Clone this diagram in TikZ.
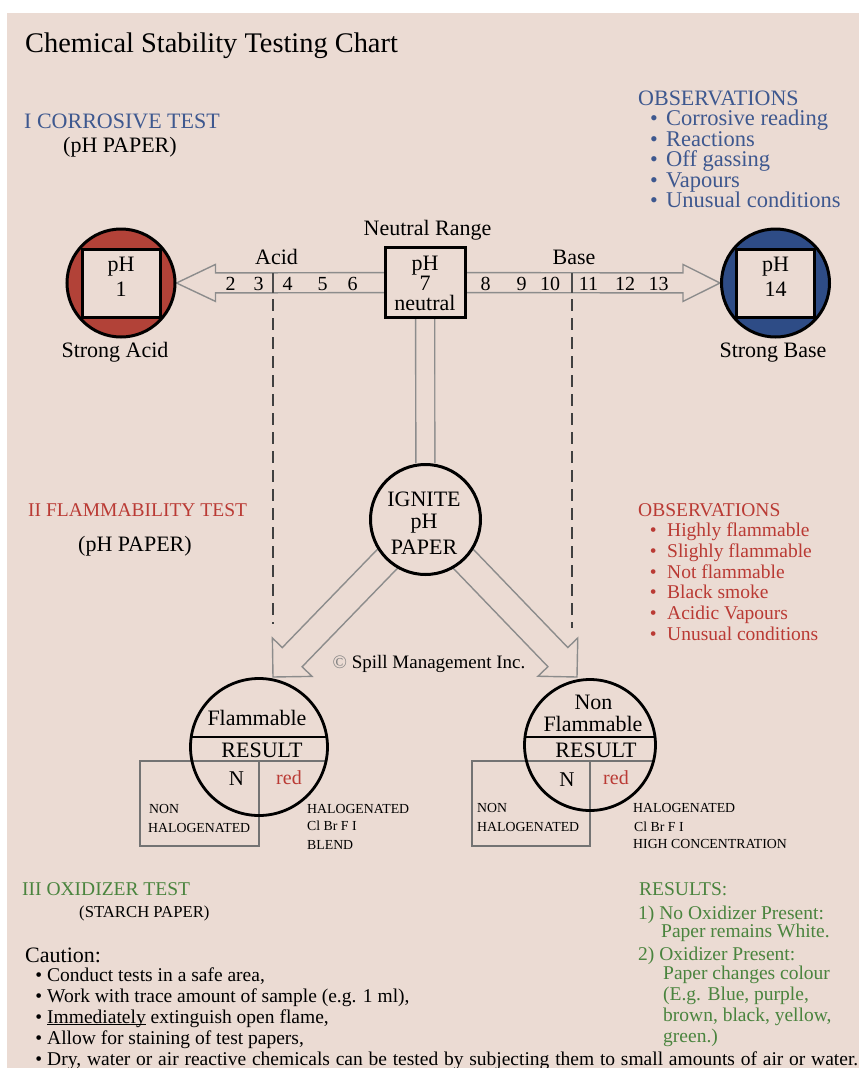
\documentclass[tikz,border=0pt]{standalone}
\usepackage{fontspec}
\setmainfont{Liberation Serif}
\usetikzlibrary{positioning,calc}

\definecolor{paper}{RGB}{235,219,211}
\definecolor{obsblue}{RGB}{62,88,143}
\definecolor{obsred}{RGB}{186,58,52}
\definecolor{obsgreen}{RGB}{74,132,62}
\definecolor{acidred}{RGB}{178,66,56}
\definecolor{baseblue}{RGB}{46,76,134}
\definecolor{arrowgray}{RGB}{140,140,140}

\pgfdeclarelayer{paperlayer}
\pgfdeclarelayer{arrowlayer}
\pgfsetlayers{paperlayer,arrowlayer,main}

\newcommand\fatarrow[5]{%
  \path (#1) coordinate (fa-s) (#2) coordinate (fa-t);
  \path ($(fa-t)!#5!(fa-s)$) coordinate (fa-b);
  \draw[fatline] ($(fa-s)!#3!90:(fa-t)$) -- ($(fa-b)!#3!90:(fa-t)$)
    -- ($(fa-b)!#4!90:(fa-t)$) -- (fa-t) -- ($(fa-b)!#4!-90:(fa-t)$)
    -- ($(fa-b)!#3!-90:(fa-t)$) -- ($(fa-s)!#3!-90:(fa-t)$);
}

\begin{document}
\begin{tikzpicture}[x=1pt,y=-1pt,
    lbl/.style={inner sep=0pt,anchor=base west},
    ctr/.style={inner sep=0pt,anchor=base},
    ftitle/.style={font=\fontsize{28.4}{30}\selectfont},
    fbig/.style={font=\fontsize{22}{24}\selectfont},
    fmid/.style={font=\fontsize{19.5}{22}\selectfont},
    fsub/.style={font=\fontsize{16.7}{19}\selectfont},
    fsmall/.style={font=\fontsize{13.8}{16}\selectfont},
    phring/.style={circle,draw,line width=3pt,minimum size=108pt},
    phsquare/.style={rectangle,draw,line width=3pt,fill=paper,minimum width=78pt,minimum height=68pt},
    neutralbox/.style={rectangle,draw,line width=3pt,fill=paper,minimum width=80pt,minimum height=70pt},
    ignitecirc/.style={circle,draw,line width=3pt,fill=paper,minimum size=110pt},
    boxline/.style={draw=black!55,line width=1.3pt},
    rescirc/.style 2 args={circle,draw,line width=2.8pt,fill=paper,
      path picture={
        \draw[line width=2.4pt] ([yshift=#1]path picture bounding box.center) +(-90pt,0pt) -- +(90pt,0pt);
        \draw[boxline] ([yshift=#2]path picture bounding box.center) +(-90pt,0pt) -- +(90pt,0pt);
        \draw[boxline] ([yshift=#2]path picture bounding box.center) -- +(0pt,-90pt);}},
    fatline/.style={draw=arrowgray,line width=1.4pt,line join=miter},
    tickline/.style={draw=black!70,line width=1.4pt},
    dashline/.style={draw=black!75,line width=1.6pt,dash pattern=on 12pt off 7pt}]

  \begin{pgfonlayer}{paperlayer}
    \fill[white] (0,0) rectangle (859,1068);
    \fill[paper] (7,13) rectangle (859,1068);
  \end{pgfonlayer}
  \useasboundingbox (0,0) rectangle (859,1068);

  \node[lbl,ftitle] (title) at (25,52) {Chemical Stability Testing Chart};

  % I corrosive test
  \node[lbl,fbig,text=obsblue] (test1) at (24,128) {I CORROSIVE TEST};
  \node[lbl,fbig] (paper1) at (63,152) {(pH PAPER)};
  \node[lbl,fbig,text=obsblue] (obsb) at (638,105) {OBSERVATIONS};
  \foreach \t [count=\i] in {Corrosive reading,Reactions,Off gassing,Vapours,Unusual conditions}{
    \node[lbl,font=\fontsize{22.5}{24}\selectfont,text=obsblue] (obsb\i) at (666,{105+20.5*\i}) {\t};
    \node[fbig,text=obsblue,inner sep=0pt,left=8pt of obsb\i.base west,anchor=base east] {•};
  }

  \node[phring,fill=acidred] (sacid) at (121,283) {};
  \node[phsquare] (sq1) at (sacid) {};
  \node[ctr,fbig] (ph1a) at (121,271) {pH};
  \node[ctr,fbig] (ph1b) at (121,296) {1};
  \node[ctr,fbig] (acidlbl) at (115,357) {Strong Acid};

  \node[phring,fill=baseblue] (sbase) at (775.5,283) {};
  \node[phsquare] (sq14) at (sbase) {};
  \node[ctr,fbig] (ph14a) at (775.5,271) {pH};
  \node[ctr,fbig] (ph14b) at (775.5,296) {14};
  \node[ctr,fbig] (baselbl) at (773,357) {Strong Base};

  \node[neutralbox] (neutral) at (425,282.5) {};
  \node[ctr,fbig] (ph7a) at (425,270) {pH};
  \node[ctr,fbig] (ph7b) at (425,290.5) {7};
  \node[ctr,fbig] (ph7c) at (425,310) {neutral};
  \node[ctr,fbig] (nrange) at (427.5,235) {Neutral Range};
  \node[ctr,fbig] (acid) at (276.5,264) {Acid};
  \node[ctr,fbig] (base) at (574,264) {Base};
  \foreach \n/\x in {2/230.5,3/258.5,4/287.5,5/322.5,6/352.5,8/485.5,9/521.5,10/550,11/588.5,12/625,13/658.5}
    \node[ctr,font=\fontsize{20}{22}\selectfont] (num\n) at (\x,290) {\n};

  \coordinate (tickl) at (273,273);
  \coordinate (dashl) at (273,624);
  \coordinate (tickr) at (572,273);
  \coordinate (dashr) at (572,628);
  \draw[tickline] (tickl) -- ++(0,20);
  \draw[tickline] (tickr) -- ++(0,20);
  \draw[dashline] ($(tickl)+(0,26)$) -- (dashl);
  \draw[dashline] ($(tickr)+(0,26)$) -- (dashr);

  % II flammability test
  \node[ignitecirc] (ignite) at (425.5,519.5) {};
  \node[ctr,fbig] (ign1) at (424,506) {IGNITE};
  \node[ctr,fbig] (ign2) at (424,528) {pH};
  \node[ctr,fbig] (ign3) at (424,554) {PAPER};

  \node[lbl,fmid,text=obsred] (test2) at (28,516) {II FLAMMABILITY TEST};
  \node[lbl,fbig] (paper2) at (78,551) {(pH PAPER)};
  \node[lbl,fmid,text=obsred] (obsr) at (638,516) {OBSERVATIONS};
  \foreach \t [count=\i] in {Highly flammable,Slighly flammable,Not flammable,Black smoke,Acidic Vapours,Unusual conditions}{
    \node[lbl,fmid,text=obsred] (obsr\i) at (667,{516+20.7*\i}) {\t};
    \node[fmid,text=obsred,inner sep=0pt,left=10pt of obsr\i.base west,anchor=base east] {•};
  }
  \node[ctr,font=\fontsize{19}{21}\selectfont] (copy) at (429,668) {{\color{gray}©} Spill Management Inc.};

  \coordinate (flamtip) at (273,677);
  \coordinate (nonflamtip) at (577,677);

  \node[rescirc={10pt}{-14pt},minimum size=137pt] (flam) at (259,747) {};
  \node[ctr,fbig] (flamlbl) at (257,725) {Flammable};
  \node[ctr,fbig] (res1) at (262,757) {RESULT};
  \node[ctr,font=\fontsize{21}{23}\selectfont] (n1) at (236.5,785) {N};
  \node[ctr,font=\fontsize{20}{22}\selectfont,text=obsred] (red1) at (289,784) {red};
  \node[lbl,fsmall] (non1) at (149,813) {NON};
  \node[lbl,fsmall] (hal1) at (148,832) {HALOGENATED};
  \node[lbl,fsmall] (hal1b) at (307,813) {HALOGENATED};
  \node[lbl,fsmall] (cl1) at (307,830) {Cl Br F I};
  \node[lbl,fsmall] (blend) at (307,849) {BLEND};

  \node[rescirc={8pt}{-16pt},minimum size=131pt] (nonflam) at (590,745) {};
  \node[ctr,fbig] (nonlbl) at (593.5,709) {Non};
  \node[ctr,fbig] (flamlbl2) at (593,731) {Flammable};
  \node[ctr,fbig] (res2) at (596,757) {RESULT};
  \node[ctr,font=\fontsize{21}{23}\selectfont] (n2) at (567,786) {N};
  \node[ctr,font=\fontsize{20}{22}\selectfont,text=obsred] (red2) at (616,784) {red};
  \node[lbl,fsmall] (non2) at (477,812) {NON};
  \node[lbl,fsmall] (hal2) at (477,831) {HALOGENATED};
  \node[lbl,fsmall] (hal2b) at (633,812) {HALOGENATED};
  \node[lbl,fsmall] (cl2) at (634,831) {Cl Br F I};
  \node[lbl,fsmall] (high) at (633,848) {HIGH CONCENTRATION};

  \begin{pgfonlayer}{arrowlayer}
    \fatarrow{neutral.center}{sacid.east}{10pt}{18.5pt}{39pt}
    \fatarrow{neutral.center}{sbase.west}{10pt}{18.5pt}{37pt}
    \fatarrow{ignite.center}{flamtip}{13.8pt}{27.6pt}{27.6pt}
    \fatarrow{ignite.center}{nonflamtip}{13.8pt}{27.6pt}{27.6pt}
    \draw[fatline,double=paper,double distance=17.6pt] (neutral) -- (ignite);
    \draw[boxline] ($(flam.center)+(-119,14)$) rectangle ($(flam.center)+(0,99)$);
    \draw[boxline] ($(nonflam.center)+(-118,16)$) rectangle ($(nonflam.center)+(0,101)$);
  \end{pgfonlayer}

  % III oxidizer test
  \node[lbl,fmid,text=obsgreen] (test3) at (22,895) {III OXIDIZER TEST};
  \node[lbl,fsub] (paper3) at (79,917) {(STARCH PAPER)};
  \node[lbl,fbig] (caution) at (25,962) {Caution:};
  \foreach \t [count=\i] in {{Conduct tests in a safe area,},
      {Work with trace amount of sample (e.g. 1 ml),},
      {\underline{\smash{Immediately}} extinguish open flame,},
      {Allow for staining of test papers,},
      {\makebox[811pt][s]{Dry, water or air reactive chemicals can be tested by subjecting them to small amounts of air or water.}}}{
    \node[lbl,fmid] (cau\i) at (47,{960+21*\i}) {\t};
    \node[fmid,inner sep=0pt,left=4.5pt of cau\i.base west,anchor=base east] {•};
  }
  \node[lbl,fmid,text=obsgreen] (res3) at (639,895) {RESULTS:};
  \node[lbl,fmid,text=obsgreen] (r1) at (638,919) {1) No Oxidizer Present:};
  \node[lbl,fmid,text=obsgreen] (r1b) at (661,937) {Paper remains White.};
  \node[lbl,fmid,text=obsgreen] (r2) at (638,960) {2) Oxidizer Present:};
  \node[lbl,fmid,text=obsgreen] (r2b) at (663,979) {Paper changes colour};
  \node[lbl,fmid,text=obsgreen] (r2c) at (663,1000) {(E.g. Blue, purple,};
  \node[lbl,fmid,text=obsgreen] (r2d) at (663,1021) {brown, black, yellow,};
  \node[lbl,fmid,text=obsgreen] (r2e) at (663,1042) {green.)};
\end{tikzpicture}
\end{document}
